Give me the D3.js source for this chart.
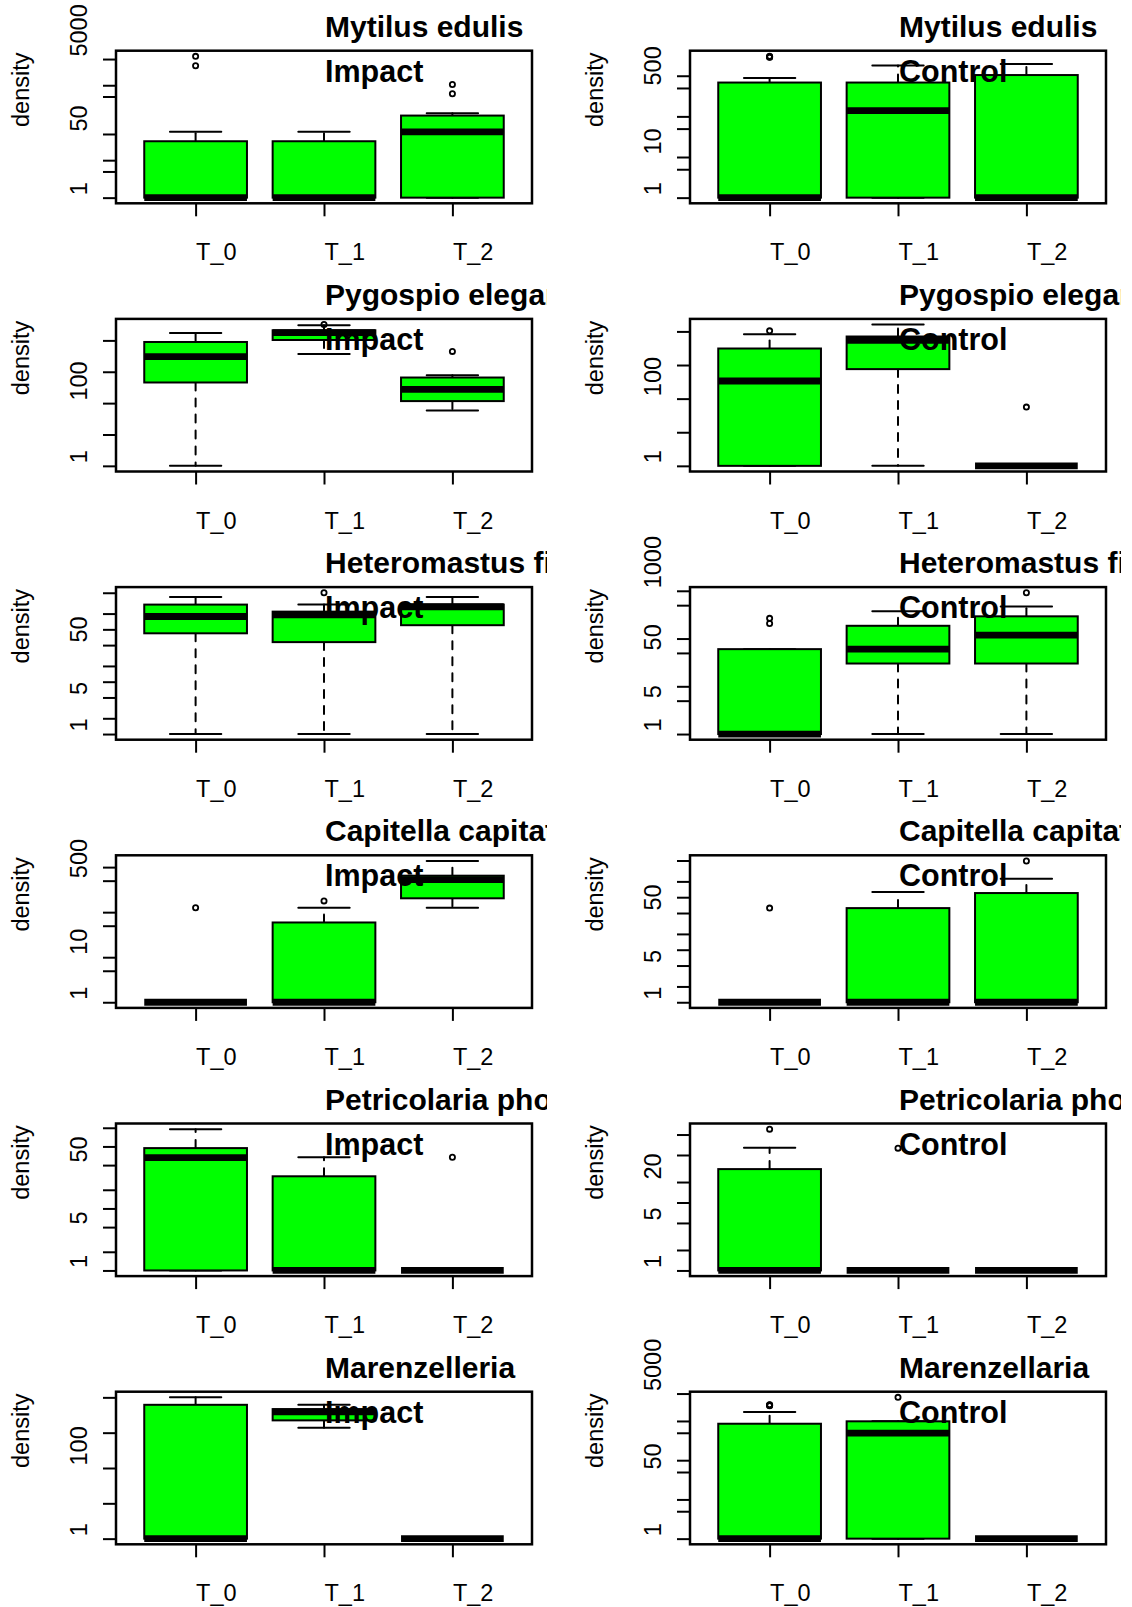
<!DOCTYPE html>
<html><head><meta charset="utf-8">
<script src="https://cdn.jsdelivr.net/npm/d3@7"></script>
<style>body{margin:0;background:#fff}</style>
</head><body>
<svg id="chart" width="1132" height="1607"></svg>
<script>
// ---------- data ----------
const times = ["T_0", "T_1", "T_2"];
const speciesLeft = ["Mytilus edulis", "Pygospio elegans", "Heteromastus filiformis",
  "Capitella capitata", "Petricolaria pholadiformis", "Marenzelleria"];
const speciesRight = ["Mytilus edulis", "Pygospio elegans", "Heteromastus filiformis",
  "Capitella capitata", "Petricolaria pholadiformis", "Marenzellaria"];
const sites = ["Impact", "Control"];

// box stats per time: [lower whisker, Q1, median, Q3, upper whisker]
const mytilusImpactStats = [[1,1,1,32,57],[1,1,1,32,57],[1,1,57,155,180]];
const mytilusImpactOut = [[3300,5900],[],[590,1050]];
const mytilusImpactTicks = [1,5,10,50,500,1000,5000];
const mytilusImpactLabels = [1,50,5000];

const mytilusControlStats = [[1,1,1,680,880],[1,1,139,680,1780],[1,1,1,1040,1950]];
const mytilusControlOut = [[2850,2900,2950,3000],[],[]];
const mytilusControlTicks = [1,5,10,50,100,500,1000];
const mytilusControlLabels = [1,10,500];

const pygospioImpactStats = [[1,455,3030,8900,17300],[3700,10300,17700,21000,30500],[58,116,275,655,780]];
const pygospioImpactOut = [[],[32000],[4450]];
const pygospioImpactTicks = [1,10,100,1000,10000];
const pygospioImpactLabels = [1,100];

const pygospioControlStats = [[1,1,335,3100,8300],[1,755,5450,7050,16000],[1,1,1,1,1]];
const pygospioControlOut = [[10400],[],[56]];
const pygospioControlTicks = [1,10,100,1000,10000];
const pygospioControlLabels = [1,100];

const heteroImpactStats = [[1,84,176,297,414],[1,57,190,218,297],[1,120,270,297,414]];
const heteroImpactOut = [[],[500],[]];
const heteroImpactTicks = [1,2,5,10,20,50,100,200,500];
const heteroImpactLabels = [1,5,50];

const heteroControlStats = [[1,1,1,60,60],[1,30,60,185,375],[1,30,118,292,470]];
const heteroControlOut = [[207,265],[],[910]];
const heteroControlTicks = [1,5,10,50,100,500,1000];
const heteroControlLabels = [1,5,50,1000];

const capitellaImpactStats = [[1,1,1,1,1],[1,1,1,59,125],[125,203,530,645,1370]];
const capitellaImpactOut = [[125],[178],[]];
const capitellaImpactTicks = [1,5,10,50,100,500,1000];
const capitellaImpactLabels = [1,10,500];

const capitellaControlStats = [[1,1,1,1,1],[1,1,1,62,125],[1,1,1,120,225]];
const capitellaControlOut = [[62],[],[490]];
const capitellaControlTicks = [1,2,5,10,20,50,100,200,500];
const capitellaControlLabels = [1,5,50];

const petricolariaImpactStats = [[1,1,66,94,190],[1,1,1,33,67],[1,1,1,1,1]];
const petricolariaImpactOut = [[],[],[67]];
const petricolariaImpactTicks = [1,2,5,10,20,50,100,200];
const petricolariaImpactLabels = [1,5,50];

const petricolariaControlStats = [[1,1,1,31,64],[1,1,1,1,1],[1,1,1,1,1]];
const petricolariaControlOut = [[120],[63],[]];
const petricolariaControlTicks = [1,2,5,10,20,50,100];
const petricolariaControlLabels = [1,5,20];

const marenzImpactStats = [[1,1,1,6150,10000],[1370,2230,3870,4650,6150],[1,1,1,1,1]];
const marenzImpactOut = [[],[],[]];
const marenzImpactTicks = [1,10,100,1000,10000];
const marenzImpactLabels = [1,100];

const marenzControlStats = [[1,1,1,850,1690],[1,1,490,980,980],[1,1,1,1,1]];
const marenzControlOut = [[2450,2500,2550,2600],[4000],[]];
const marenzControlTicks = [1,5,10,50,100,500,1000,5000];
const marenzControlLabels = [1,50,5000];

// ---------- panel table ----------
const panels = [
  [mytilusImpactStats, mytilusImpactOut, mytilusImpactTicks, mytilusImpactLabels],
  [mytilusControlStats, mytilusControlOut, mytilusControlTicks, mytilusControlLabels],
  [pygospioImpactStats, pygospioImpactOut, pygospioImpactTicks, pygospioImpactLabels],
  [pygospioControlStats, pygospioControlOut, pygospioControlTicks, pygospioControlLabels],
  [heteroImpactStats, heteroImpactOut, heteroImpactTicks, heteroImpactLabels],
  [heteroControlStats, heteroControlOut, heteroControlTicks, heteroControlLabels],
  [capitellaImpactStats, capitellaImpactOut, capitellaImpactTicks, capitellaImpactLabels],
  [capitellaControlStats, capitellaControlOut, capitellaControlTicks, capitellaControlLabels],
  [petricolariaImpactStats, petricolariaImpactOut, petricolariaImpactTicks, petricolariaImpactLabels],
  [petricolariaControlStats, petricolariaControlOut, petricolariaControlTicks, petricolariaControlLabels],
  [marenzImpactStats, marenzImpactOut, marenzImpactTicks, marenzImpactLabels],
  [marenzControlStats, marenzControlOut, marenzControlTicks, marenzControlLabels]
].map((p, i) => ({
  stats: p[0], out: p[1], ticks: p[2], labels: p[3],
  row: Math.floor(i / 2), col: i % 2,
  title: (i % 2 === 0 ? speciesLeft : speciesRight)[Math.floor(i / 2)],
  site: sites[i % 2]
}));

// ---------- layout ----------
const FONT = "'Liberation Sans', Arial, Helvetica, sans-serif";
const colL = [116, 690], plotW = 416;
const top0 = 50.7, rowPitch = 268.2, plotH = 152.6;
const clipX = [[0, 547], [574, 1121]];

const svg = d3.select("#chart");
const defs = svg.append("defs");
clipX.forEach((c, i) => {
  defs.append("clipPath").attr("id", "clip" + i)
    .append("rect").attr("x", c[0]).attr("y", 0).attr("width", c[1] - c[0]).attr("height", 1607);
});

panels.forEach(p => {
  const L = colL[p.col], R = L + plotW;
  const T = top0 + p.row * rowPitch, B = T + plotH;
  const g = svg.append("g");

  const x = d3.scaleLinear().domain([0.5 - 0.12, 3.5 + 0.12]).range([L, R]);
  const allVals = p.stats.flat().concat(p.out.flat());
  const lo = Math.log10(d3.min(allVals)), hi = Math.log10(d3.max(allVals));
  const ext = 0.04 * (hi - lo);
  const y = d3.scaleLog().domain([Math.pow(10, lo - ext), Math.pow(10, hi + ext)]).range([B, T]);

  const bw = x(1.4) - x(1), cw = x(1.2) - x(1);

  p.stats.forEach((s, i) => {
    const cx = x(i + 1);
    const bg = g.append("g");
    // whiskers (dashed)
    bg.append("line").attr("x1", cx).attr("x2", cx).attr("y1", y(s[3])).attr("y2", y(s[4]))
      .attr("stroke", "#000").attr("stroke-width", 2).attr("stroke-dasharray", "8,8").attr("stroke-linecap", "round");
    bg.append("line").attr("x1", cx).attr("x2", cx).attr("y1", y(s[1])).attr("y2", y(s[0]))
      .attr("stroke", "#000").attr("stroke-width", 2).attr("stroke-dasharray", "8,8").attr("stroke-linecap", "round");
    // staples
    [s[0], s[4]].forEach(v => {
      bg.append("line").attr("x1", cx - cw).attr("x2", cx + cw).attr("y1", y(v)).attr("y2", y(v))
        .attr("stroke", "#000").attr("stroke-width", 2).attr("stroke-linecap", "round");
    });
    // box
    bg.append("rect").attr("x", cx - bw).attr("width", 2 * bw)
      .attr("y", y(s[3])).attr("height", Math.max(0, y(s[1]) - y(s[3])))
      .attr("fill", "#00ff00").attr("stroke", "#000").attr("stroke-width", 2);
    // median
    bg.append("line").attr("x1", cx - bw).attr("x2", cx + bw).attr("y1", y(s[2])).attr("y2", y(s[2]))
      .attr("stroke", "#000").attr("stroke-width", 6.8).attr("stroke-linecap", "butt");
    // outliers
    p.out[i].forEach(v => {
      bg.append("circle").attr("cx", cx).attr("cy", y(v)).attr("r", 2.6)
        .attr("fill", "none").attr("stroke", "#000").attr("stroke-width", 1.8);
    });
  });

  // y axis
  const ya = g.append("g").attr("transform", `translate(${L},0)`)
    .call(d3.axisLeft(y).tickValues(p.ticks).tickSize(13)
      .tickFormat(d => p.labels.includes(d) ? String(d) : ""));
  ya.select(".domain").remove();
  ya.selectAll(".tick line").attr("stroke", "#000").attr("stroke-width", 2);
  ya.selectAll(".tick text")
    .attr("transform", "rotate(-90)").attr("x", 3).attr("y", -29.5).attr("dy", 0)
    .attr("text-anchor", "start").attr("fill", "#000")
    .style("font-family", FONT).style("font-size", "23.5px");

  // x axis
  const xa = g.append("g").attr("transform", `translate(0,${B})`)
    .call(d3.axisBottom(x).tickValues([1, 2, 3]).tickSize(13).tickFormat((d, i) => times[i]));
  xa.select(".domain").remove();
  xa.selectAll(".tick line").attr("stroke", "#000").attr("stroke-width", 2);
  xa.selectAll(".tick text").attr("x", 0).attr("y", 57).attr("dy", 0)
    .attr("text-anchor", "start").attr("fill", "#000")
    .style("font-family", FONT).style("font-size", "23.5px");

  // frame
  g.append("rect").attr("x", L).attr("y", T).attr("width", plotW).attr("height", plotH)
    .attr("fill", "none").attr("stroke", "#000").attr("stroke-width", 2.5);

  // y label
  g.append("text").attr("transform", `translate(${L - 87},${(T + B) / 2}) rotate(-90)`)
    .attr("text-anchor", "start").style("font-family", FONT).style("font-size", "23.5px")
    .text("density");

  // title & site label
  const mid = (L + R) / 2;
  g.append("text").attr("x", mid + 1).attr("y", T - 14).attr("clip-path", `url(#clip${p.col})`)
    .style("font-family", FONT).style("font-size", "30px").style("font-weight", "bold")
    .text(p.title);
  g.append("text").attr("x", mid + 1).attr("y", T + 31)
    .style("font-family", FONT).style("font-size", "30.5px").style("font-weight", "bold")
    .text(p.site);
});
</script>
</body></html>
